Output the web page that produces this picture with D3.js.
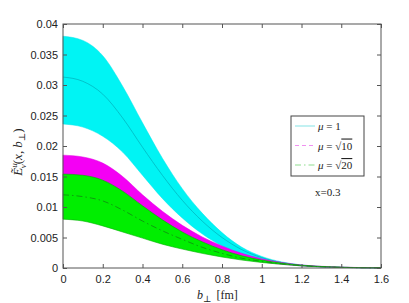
<!DOCTYPE html>
<html>
<head>
<meta charset="utf-8">
<script src="https://cdn.jsdelivr.net/npm/d3@7"></script>
<style>
  body { margin: 0; background: #fff; }
  .tick text { font-family: "Liberation Sans", Arial, sans-serif; font-size: 11px; fill: #222; }
  .serif { font-family: "Liberation Serif", "DejaVu Serif", serif; fill: #222; }
</style>
</head>
<body>
<div id="chart"></div>
<script>
// b_perp grid [fm]
const bGrid = [0, 0.1, 0.2, 0.3, 0.4, 0.5, 0.6, 0.7, 0.8, 0.9, 1.0, 1.1, 1.2, 1.3, 1.4, 1.5, 1.6]

// mu = 1 (cyan band)
const cyanUpper  = [0.0380, 0.0373, 0.0348, 0.0298, 0.0238, 0.0180, 0.0130, 0.0090, 0.0058, 0.0034, 0.0019, 0.0010, 0.0005, 0.00025, 0.00012, 0.00006, 0.00003]
const cyanCenter = [0.0313, 0.0306, 0.0285, 0.0246, 0.0198, 0.0152, 0.0111, 0.0077, 0.0050, 0.0030, 0.0017, 0.0009, 0.00045, 0.0002, 0.0001, 0.00005, 0.00002]
const cyanLower  = [0.0236, 0.0231, 0.0216, 0.0190, 0.0152, 0.0114, 0.0082, 0.0056, 0.0036, 0.0022, 0.0013, 0.0007, 0.00035, 0.00017, 0.00008, 0.00004, 0.00002]

// mu = sqrt(10) (magenta band, lower part hidden by green)
const magUpper  = [0.0185, 0.0182, 0.0172, 0.0150, 0.0120, 0.0093, 0.0070, 0.0051, 0.0036, 0.0024, 0.0015, 0.0009, 0.0005, 0.00028, 0.00014, 0.00007, 0.00004]
const magCenter = [0.0140, 0.0138, 0.0130, 0.0112, 0.0090, 0.0070, 0.0052, 0.0038, 0.0027, 0.0018, 0.0012, 0.0007, 0.0004, 0.00022, 0.00011, 0.00006, 0.00003]
const magLower  = [0.0100, 0.0097, 0.0090, 0.0077, 0.0063, 0.0050, 0.0039, 0.0030, 0.0022, 0.0015, 0.0010, 0.0006, 0.00035, 0.0002, 0.0001, 0.00005, 0.00003]

// mu = sqrt(20) (green band)
const greenUpper  = [0.0154, 0.0152, 0.0144, 0.0126, 0.0102, 0.0079, 0.0059, 0.0043, 0.0030, 0.0020, 0.0013, 0.0008, 0.00045, 0.00025, 0.00012, 0.00006, 0.00003]
const greenCenter = [0.0120, 0.0117, 0.0110, 0.0095, 0.0077, 0.0061, 0.0047, 0.0034, 0.0024, 0.0016, 0.0011, 0.0007, 0.0004, 0.0002, 0.0001, 0.00005, 0.00003]
const greenLower  = [0.0080, 0.0077, 0.0069, 0.0059, 0.0049, 0.0039, 0.0031, 0.0024, 0.0018, 0.0013, 0.0009, 0.0006, 0.00035, 0.0002, 0.0001, 0.00006, 0.00003]

const xTicks = [0, 0.2, 0.4, 0.6, 0.8, 1, 1.2, 1.4, 1.6]
const xTickLabels = ["0", "0.2", "0.4", "0.6", "0.8", "1", "1.2", "1.4", "1.6"]
const yTicks = [0, 0.005, 0.01, 0.015, 0.02, 0.025, 0.03, 0.035, 0.04]
const yTickLabels = ["0", "0.005", "0.01", "0.015", "0.02", "0.025", "0.03", "0.035", "0.04"]

const W = 409, H = 303
const margin = {top: 24, right: 28, bottom: 35, left: 63}
const width = W - margin.left - margin.right
const height = H - margin.top - margin.bottom

const svg = d3.select("#chart").append("svg")
    .attr("width", W)
    .attr("height", H)

const g = svg.append("g")
    .attr("transform", `translate(${margin.left},${margin.top})`)

const xScale = d3.scaleLinear().domain([0, 1.6]).range([0, width])
const yScale = d3.scaleLinear().domain([0, 0.04]).range([height, 0])

const zip = (lo, hi) => bGrid.map((b, i) => ({b, lo: lo[i], hi: hi[i]}))
const pts = arr => bGrid.map((b, i) => ({b, v: arr[i]}))

const band = d3.area()
    .curve(d3.curveMonotoneX)
    .x(d => xScale(d.b))
    .y0(d => yScale(d.lo))
    .y1(d => yScale(d.hi))

const line = d3.line()
    .curve(d3.curveMonotoneX)
    .x(d => xScale(d.b))
    .y(d => yScale(d.v))

// bands
g.append("path").datum(zip(cyanLower, cyanUpper))
    .attr("fill", "#00f4f4").attr("stroke", "#00e4ea").attr("stroke-width", 0.5).attr("d", band)
g.append("path").datum(pts(cyanCenter))
    .attr("fill", "none").attr("stroke", "#00b8c0").attr("stroke-width", 0.8).attr("d", line)

g.append("path").datum(zip(magLower, magUpper))
    .attr("fill", "#f400f4").attr("stroke", "#e000e0").attr("stroke-width", 0.5).attr("d", band)
g.append("path").datum(pts(magCenter))
    .attr("fill", "none").attr("stroke", "#c000c0").attr("stroke-width", 0.8)
    .attr("stroke-dasharray", "4,3").attr("d", line)

g.append("path").datum(zip(greenLower, greenUpper))
    .attr("fill", "#00ee00").attr("stroke", "#00b000").attr("stroke-width", 0.6).attr("d", band)
g.append("path").datum(pts(greenCenter))
    .attr("fill", "none").attr("stroke", "#118811").attr("stroke-width", 0.8)
    .attr("stroke-dasharray", "6,3,1.5,3").attr("d", line)

// axes with inward ticks on all sides
const xAxis = d3.axisBottom(xScale).tickValues(xTicks)
    .tickFormat((d, i) => xTickLabels[i]).tickSizeInner(-4).tickSizeOuter(0).tickPadding(7)
const yAxis = d3.axisLeft(yScale).tickValues(yTicks)
    .tickFormat((d, i) => yTickLabels[i]).tickSizeInner(-4).tickSizeOuter(0).tickPadding(5)

const xGroup = g.append("g").attr("transform", `translate(0,${height})`).call(xAxis)
const yGroup = g.append("g").call(yAxis)
g.append("g").call(d3.axisTop(xScale).tickValues(xTicks).tickFormat("").tickSizeInner(-4).tickSizeOuter(0))
g.append("g").attr("transform", `translate(${width},0)`)
    .call(d3.axisRight(yScale).tickValues(yTicks).tickFormat("").tickSizeInner(-4).tickSizeOuter(0))

g.selectAll(".domain").remove()
g.selectAll(".tick line").attr("stroke", "#555")

g.append("rect")
    .attr("width", width).attr("height", height)
    .attr("fill", "none").attr("stroke", "#555").attr("stroke-width", 1)

// axis labels
const xLabel = svg.append("text").attr("class", "serif")
    .attr("x", 197).attr("y", 299)
    .style("font-size", "12px")
xLabel.append("tspan").style("font-style", "italic").text("b")
xLabel.append("tspan").attr("dy", 3).style("font-size", "9px").text("⊥")
xLabel.append("tspan").attr("dy", -3).attr("dx", 5).text("[fm]")

const yLabel = svg.append("text").attr("class", "serif")
    .attr("transform", `translate(22,${margin.top + height / 2 + 6}) rotate(-90)`)
    .attr("text-anchor", "middle")
    .style("font-size", "13px")
yLabel.append("tspan").style("font-style", "italic").text("Ẽ")
yLabel.append("tspan").attr("dy", -5).style("font-size", "9px").style("font-style", "italic").text("u")
yLabel.append("tspan").attr("dx", -5).attr("dy", 9).style("font-size", "9px").style("font-style", "italic").text("v")
yLabel.append("tspan").attr("dy", -4).text("(")
yLabel.append("tspan").style("font-style", "italic").text("x")
yLabel.append("tspan").text(", ")
yLabel.append("tspan").style("font-style", "italic").text("b")
yLabel.append("tspan").attr("dy", 3).style("font-size", "9px").text("⊥")
yLabel.append("tspan").attr("dy", -3).text(")")

// legend
const legendItems = [
    {label: "1", root: false, color: "#99e8ea", dash: null},
    {label: "10", root: true, color: "#f090f0", dash: "4,3"},
    {label: "20", root: true, color: "#90dd90", dash: "6,3,1.5,3"}
]
const legend = svg.append("g").attr("transform", "translate(291,116)")
legend.append("rect").attr("width", 73).attr("height", 60)
    .attr("fill", "#fff").attr("stroke", "#444").attr("stroke-width", 1)
legendItems.forEach((d, i) => {
    const y = 10 + i * 19.5
    legend.append("line").attr("x1", 4).attr("x2", 24).attr("y1", y).attr("y2", y)
        .attr("stroke", d.color).attr("stroke-width", 1.2).attr("stroke-dasharray", d.dash)
    const t = legend.append("text").attr("class", "serif")
        .attr("x", 27).attr("y", y + 4).style("font-size", "11px")
    t.append("tspan").style("font-style", "italic").text("μ")
    t.append("tspan").text(" = ")
    if (d.root) {
        t.append("tspan").text("√")
        t.append("tspan").style("text-decoration", "overline").text(d.label)
    } else {
        t.append("tspan").text(d.label)
    }
})

svg.append("text").attr("class", "serif")
    .attr("x", 315).attr("y", 196)
    .style("font-size", "11px")
    .text("x=0.3")
</script>
</body>
</html>
